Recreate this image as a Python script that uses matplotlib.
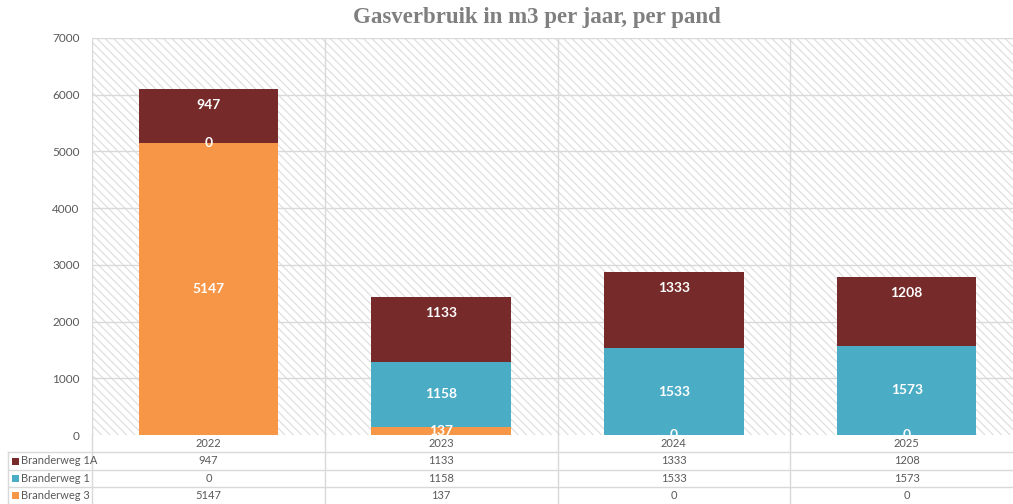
import numpy as np
import matplotlib.pyplot as plt
import matplotlib.patches as mpatches
from matplotlib.lines import Line2D

# data
years = ['2022', '2023', '2024', '2025']
series_names = ['Branderweg 1A', 'Branderweg 1', 'Branderweg 3']
branderweg_1a = [947, 1133, 1333, 1208]
branderweg_1 = [0, 1158, 1533, 1573]
branderweg_3 = [5147, 137, 0, 0]

colors = {'Branderweg 1A': '#772A2A', 'Branderweg 1': '#4BACC6', 'Branderweg 3': '#F79646'}
txt_grey = '#595959'
grid_grey = '#d9d9d9'

plt.rcParams['font.family'] = ['Lato', 'DejaVu Sans']
plt.rcParams['hatch.linewidth'] = 0.8

W, H = 1013, 504
fig = plt.figure(figsize=(W / 100, H / 100), dpi=100)
# plot area in pixels: left 92, top 38, bottom 435, right edge past the picture (cropped)
ax_l, ax_t, ax_b, ax_r = 92, 38, 435, 1023
ax = fig.add_axes([ax_l / W, 1 - ax_b / H, (ax_r - ax_l) / W, (ax_b - ax_t) / H])
ax_h = ax_b - ax_t

# hatched background
bg = mpatches.Rectangle((0, 0), 1, 1, transform=ax.transAxes, facecolor='white',
                        edgecolor='#dcdcdc', hatch='\\\\\\\\', linewidth=0, zorder=0)
ax.add_patch(bg)
ax.set_facecolor('white')

x = np.arange(len(years))
ax.set_xlim(-0.5, len(years) - 0.5)
ax.set_ylim(0, 7000)
ax.set_yticks(range(0, 7001, 1000))
ax.tick_params(axis='y', length=0, labelsize=8.5, labelcolor=txt_grey, pad=9)
ax.tick_params(axis='x', length=0, labelbottom=False)
for s in ax.spines.values():
    s.set_visible(False)
for yv in range(1000, 7001, 1000):
    ax.axhline(yv, color=grid_grey, lw=1, zorder=1)
for xv in np.arange(-0.5, len(years), 1.0):
    ax.axvline(xv, color=grid_grey, lw=1, zorder=1)

bw = 0.6
b3 = ax.bar(x, branderweg_3, bw, color=colors['Branderweg 3'], zorder=2)
b1 = ax.bar(x, branderweg_1, bw, bottom=branderweg_3, color=colors['Branderweg 1'], zorder=2)
bottom_1a = np.array(branderweg_3) + np.array(branderweg_1)
b1a = ax.bar(x, branderweg_1a, bw, bottom=bottom_1a, color=colors['Branderweg 1A'], zorder=2)

lab_kw = dict(color='white', fontsize=10, fontweight='bold', ha='center', va='center', zorder=4)
for i in range(len(years)):
    t = ax.text(x[i], branderweg_3[i] / 2, str(branderweg_3[i]), **lab_kw)
    t.set_clip_box(ax.bbox)
    t.set_clip_on(True)
    t = ax.text(x[i], branderweg_3[i] + branderweg_1[i] / 2, str(branderweg_1[i]), **lab_kw)
    t.set_clip_box(ax.bbox)
    t.set_clip_on(True)
    top = bottom_1a[i] + branderweg_1a[i]
    ax.annotate(str(branderweg_1a[i]), (x[i], top), xytext=(0, -11),
                textcoords='offset points', **lab_kw)

fig.text(537 / W, 1 - 18 / H, 'Gasverbruik in m3 per jaar, per pand', ha='center', va='center',
         fontsize=16.5, fontweight='bold', color='#7f7f7f', family=['Liberation Serif'])

# data table under the plot
row_px = [435, 452, 470, 487, 504]
row_y = [-(r - ax_b) / ax_h for r in row_px]
xt = ax.get_xaxis_transform()
leg_left = -(ax_l - 8) / (ax_r - ax_l)
for r in row_y[1:4]:
    ax.add_line(Line2D([leg_left, 1], [r, r], transform=ax.transAxes, color=grid_grey,
                       lw=1, clip_on=False))
ax.add_line(Line2D([0, 0], [row_y[0], row_y[-1]], transform=ax.transAxes, color=grid_grey,
                   lw=1, clip_on=False))
ax.add_line(Line2D([leg_left, leg_left], [row_y[1], row_y[-1]], transform=ax.transAxes,
                   color=grid_grey, lw=1, clip_on=False))
for xv in np.arange(0.5, len(years) - 0.5, 1.0):
    ax.add_line(Line2D([xv, xv], [row_y[0], row_y[-1]], transform=xt, color=grid_grey,
                       lw=1, clip_on=False))

tbl_kw = dict(fontsize=8, color=txt_grey, ha='center', va='center', clip_on=False)
for i, yr in enumerate(years):
    ax.text(x[i], (row_y[0] + row_y[1]) / 2, yr, transform=xt, **tbl_kw)
rows = [branderweg_1a, branderweg_1, branderweg_3]
for j, (name, vals) in enumerate(zip(series_names, rows)):
    yc = (row_y[j + 1] + row_y[j + 2]) / 2
    for i in range(len(years)):
        ax.text(x[i], yc, str(vals[i]), transform=xt, **tbl_kw)
    sq_x = -(ax_l - 12) / (ax_r - ax_l)
    ax.add_patch(mpatches.Rectangle((sq_x, yc - 3.5 / ax_h), 7 / (ax_r - ax_l), 7 / ax_h,
                                    transform=ax.transAxes, facecolor=colors[name],
                                    edgecolor='none', clip_on=False))
    ax.text(-(ax_l - 21) / (ax_r - ax_l), yc, name, transform=ax.transAxes, fontsize=8,
            color=txt_grey, ha='left', va='center', clip_on=False)

fig.savefig('out.png', dpi=100)
